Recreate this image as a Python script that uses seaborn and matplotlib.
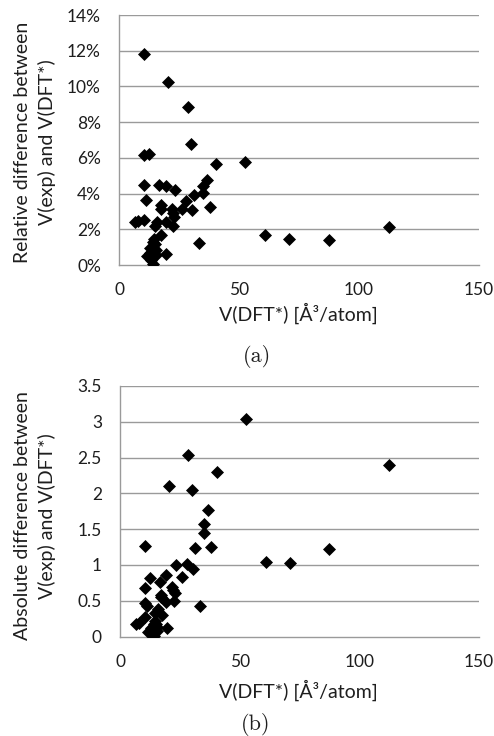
import matplotlib
matplotlib.use("Agg")
import matplotlib.pyplot as plt
from matplotlib.ticker import FuncFormatter
import seaborn as sns
import pandas as pd

# V(DFT*) [Å^3/atom]
v_dft = [10.4, 20.3, 28.6, 30.1, 10.4, 12.6, 40.5, 52.5, 10.4, 16.8,
         19.4, 23.4, 11.1, 17.3, 17.3, 21.9, 22.3, 22.9, 26.1, 28.0,
         30.5, 31.3, 35.2, 35.2, 36.6, 38.0, 6.7, 8.0, 10.4, 15.7,
         14.8, 19.4, 22.6, 17.6, 33.5, 61.0, 71.0, 87.5, 112.3, 19.6,
         14.5, 14.9, 14.2, 15.3, 12.9, 11.7, 13.9, 15.3, 14.1, 13.0,
         14.0, 13.4]
# relative difference [%]
rel_diff = [11.82, 10.22, 8.84, 6.80, 6.15, 6.23, 5.67, 5.78, 4.49, 4.49,
            4.42, 4.19, 3.65, 3.34, 3.15, 3.15, 2.91, 2.68, 3.15, 3.58,
            3.09, 3.91, 4.06, 4.44, 4.77, 3.26, 2.42, 2.44, 2.50, 2.42,
            2.16, 2.42, 2.16, 1.68, 1.21, 1.68, 1.45, 1.38, 2.14, 0.62,
            1.45, 1.18, 0.95, 0.86, 0.70, 0.52, 0.44, 0.55, 0.08, 0.95,
            1.30, 0.30]
# absolute difference [Å^3/atom]
abs_diff = [1.27, 2.10, 2.54, 2.05, 0.68, 0.82, 2.30, 3.04, 0.47, 0.76,
            0.86, 1.00, 0.43, 0.58, 0.55, 0.69, 0.65, 0.61, 0.83, 1.01,
            0.95, 1.23, 1.45, 1.57, 1.77, 1.25, 0.17, 0.19, 0.27, 0.38,
            0.33, 0.48, 0.50, 0.30, 0.42, 1.04, 1.03, 1.22, 2.40, 0.12,
            0.21, 0.18, 0.14, 0.13, 0.09, 0.06, 0.06, 0.08, 0.01, 0.12,
            0.18, 0.04]

x_ticks = [0, 50, 100, 150]
rel_ticks = [0, 2, 4, 6, 8, 10, 12, 14]
abs_ticks = [0, 0.5, 1, 1.5, 2, 2.5, 3, 3.5]

df = pd.DataFrame({"v": v_dft, "rel": rel_diff, "abs": abs_diff})

sns.set_style("white")
plt.rcParams["font.family"] = ["Lato", "DejaVu Sans"]

W, H = 494, 736
fig = plt.figure(figsize=(W / 100, H / 100), dpi=100)
ax1 = fig.add_axes([119 / W, 1 - 265 / H, 360 / W, 250 / H])
ax2 = fig.add_axes([120 / W, 1 - 636.5 / H, 359 / W, 250.5 / H])

grid_c = "#9a9a9a"
txt_c = "#1e1e1e"

def style(ax, yticks, fmt):
    ax.set_xlim(0, 150)
    ax.set_ylim(yticks[0], yticks[-1])
    ax.set_xticks(x_ticks)
    ax.set_yticks(yticks)
    ax.yaxis.set_major_formatter(fmt)
    ax.xaxis.set_major_formatter(FuncFormatter(lambda v, p: f"{v:g}"))
    for yt in yticks[1:]:
        ax.axhline(yt, color=grid_c, lw=1.0, zorder=0)
    for s in ["top", "right"]:
        ax.spines[s].set_visible(False)
    for s in ["left", "bottom"]:
        ax.spines[s].set_color(grid_c)
        ax.spines[s].set_linewidth(1.0)
    ax.tick_params(axis="both", which="major", direction="out", length=4,
                   width=1.0, color=grid_c, labelsize=12.5, labelcolor=txt_c)
    ax.tick_params(axis="y", pad=9)
    ax.tick_params(axis="x", pad=8.5)
    ax.set_xlabel("")
    ax.set_ylabel("")

sns.scatterplot(data=df, x="v", y="rel", ax=ax1, marker="D", s=44,
                color="black", edgecolor="black", linewidth=0, zorder=3)
style(ax1, rel_ticks, FuncFormatter(lambda v, p: f"{v:g}%"))

sns.scatterplot(data=df, x="v", y="abs", ax=ax2, marker="D", s=44,
                color="black", edgecolor="black", linewidth=0, zorder=3)
style(ax2, abs_ticks, FuncFormatter(lambda v, p: f"{v:g}"))

lab_kw = dict(fontsize=14, color=txt_c)
fig.text(298 / W, 1 - 313 / H, "V(DFT*) [Å³/atom]", ha="center", va="center", **lab_kw)
fig.text(298 / W, 1 - 690 / H, "V(DFT*) [Å³/atom]", ha="center", va="center", **lab_kw)
fig.text(35 / W, 1 - 142 / H, "Relative difference between\nV(exp) and V(DFT*)",
         rotation=90, ha="center", va="center", linespacing=1.4, **lab_kw)
fig.text(35 / W, 1 - 516 / H, "Absolute difference between\nV(exp) and V(DFT*)",
         rotation=90, ha="center", va="center", linespacing=1.4, **lab_kw)

fig.text(257 / W, 1 - 357 / H, "(a)", ha="center", va="center",
         fontsize=16, family="cmr10", color=txt_c)
fig.text(256 / W, 1 - 724 / H, "(b)", ha="center", va="center",
         fontsize=16, family="cmr10", color=txt_c)

fig.savefig("out.png", dpi=100)
